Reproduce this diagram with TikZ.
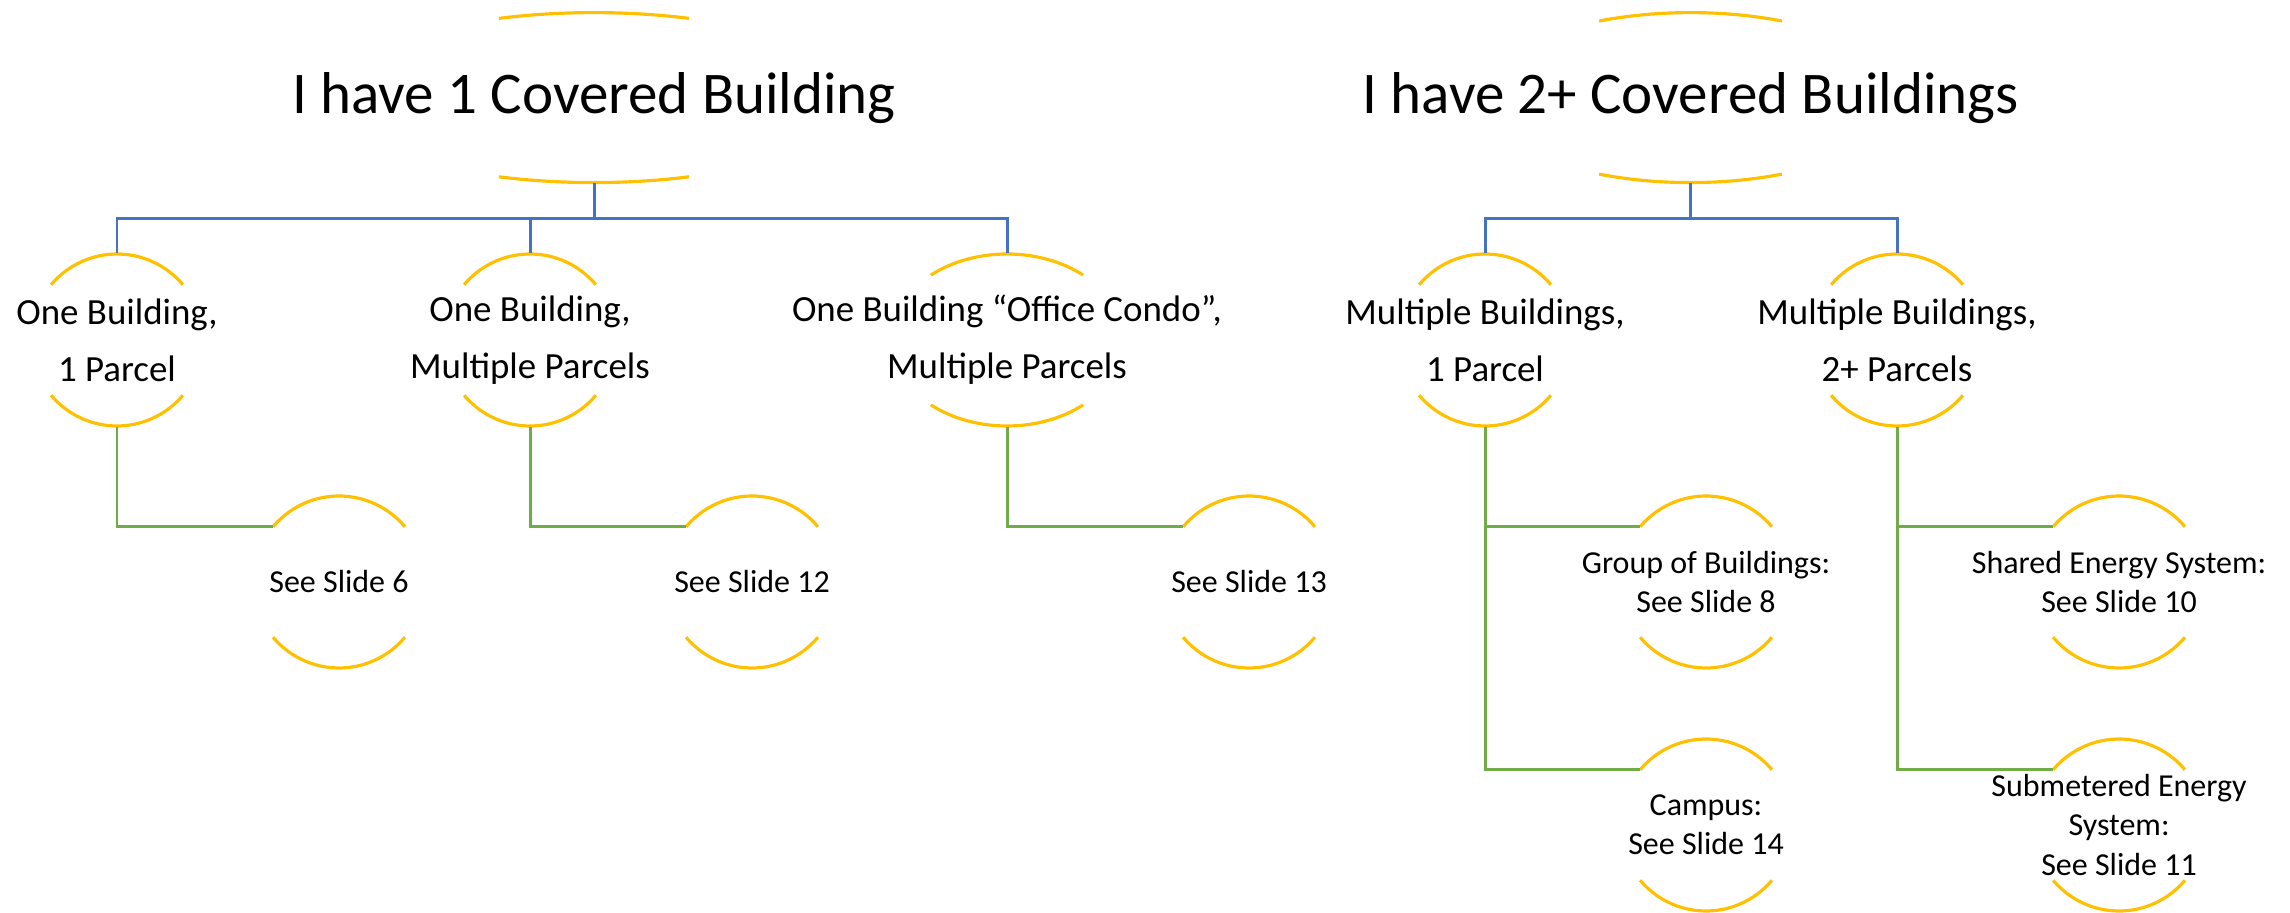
\documentclass[tikz,border=0pt]{standalone}
\usepackage{fontspec}
\setmainfont{Carlito}
\usepackage{xcolor}
\usepackage{tikz}
\usetikzlibrary{calc}

\definecolor{arcgold}{HTML}{FFC000}
\definecolor{linkblue}{HTML}{4472C4}
\definecolor{linkgreen}{HTML}{70AD47}

\begin{document}
\begin{tikzpicture}[
  title/.style={rectangle, inner sep=0pt, minimum height=1.70cm, font=\fontsize{16.8}{20}\selectfont},
  branch/.style={rectangle, inner sep=0pt, minimum height=1.72cm, align=center, font=\fontsize{10.5}{16.2}\selectfont},
  leaf/.style={rectangle, inner sep=0pt, minimum height=1.72cm, align=center, font=\fontsize{9.1}{11.1}\selectfont},
  ring/.style={draw=arcgold, line width=0.9pt},
  bluelink/.style={draw=linkblue, line width=0.85pt},
  greenlink/.style={draw=linkgreen, line width=0.85pt}
]
\useasboundingbox (0,0) rectangle (22.9,-9.13);

% Top level
\node[title] (t1) at (5.94,-0.976) {I have 1 Covered Building};
\node[title] (t2) at (16.905,-0.976) {I have 2+ Covered Buildings};

% Second level
\node[branch] (b1) at (1.17,-3.40) {One Building,\\1 Parcel};
\node[branch] (b2) at (5.30,-3.40) {One Building,\\Multiple Parcels};
\node[branch] (b3) at (10.07,-3.40) {One Building “Office Condo”,\\Multiple Parcels};
\node[branch] (b4) at (14.85,-3.40) {Multiple Buildings,\\1 Parcel};
\node[branch] (b5) at (18.97,-3.40) {Multiple Buildings,\\2+ Parcels};

% Leaves
\node[leaf] (s6) at (3.39,-5.82) {See Slide 6};
\node[leaf] (s12) at (7.52,-5.82) {See Slide 12};
\node[leaf] (s13) at (12.49,-5.82) {See Slide 13};
\node[leaf] (s8) at (17.06,-5.82) {Group of Buildings:\\See Slide 8};
\node[leaf] (s14) at (17.06,-8.25) {Campus:\\See Slide 14};
\node[leaf] (s10) at (21.19,-5.82) {Shared Energy System:\\See Slide 10};
\node[leaf] (s11) at (21.19,-8.25) {Submetered Energy\\System:\\See Slide 11};

% Arcs above and below each node
\foreach \n/\a/\b/\t in {t1/2.62/0.85/68.7, t2/2.10/0.85/64.2,
    b1/0.86/0.86/40, b2/0.86/0.86/40, b3/1.16/0.86/49, b4/0.86/0.86/40, b5/0.86/0.86/40,
    s6/0.86/0.86/40, s12/0.86/0.86/40, s13/0.86/0.86/40, s8/0.86/0.86/40,
    s14/0.86/0.86/40, s10/0.86/0.86/40, s11/0.86/0.86/40} {
  \draw[ring] ([shift={({\a*cos(180-\t)},{\b*sin(180-\t)})}]\n.center) arc[start angle=180-\t, end angle=\t, x radius=\a, y radius=\b];
  \draw[ring] ([shift={({\a*cos(180+\t)},{\b*sin(180+\t)})}]\n.center) arc[start angle=180+\t, end angle=360-\t, x radius=\a, y radius=\b];
}

% Blue links
\foreach \c in {b1,b2,b3}
  \draw[bluelink] (t1.south) -- ++(0,-0.35) -| (\c.north);
\foreach \c in {b4,b5}
  \draw[bluelink] (t2.south) -- ++(0,-0.35) -| (\c.north);

% Green links
\foreach \p/\c in {b1/s6, b2/s12, b3/s13, b4/s8, b4/s14, b5/s10, b5/s11}
  \draw[greenlink] (\p.south) |- ([shift={(140:0.86)}]\c.center);
\end{tikzpicture}
\end{document}
